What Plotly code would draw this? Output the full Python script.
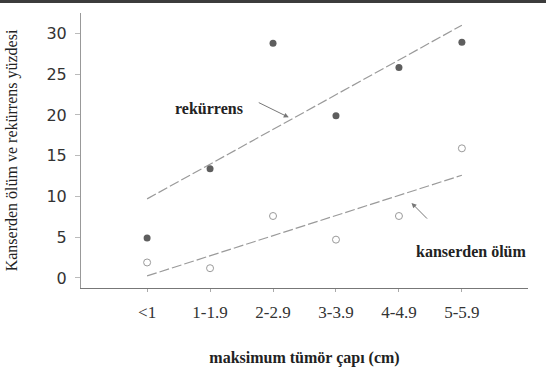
import plotly.graph_objects as go

categories = ["<1", "1-1.9", "2-2.9", "3-3.9", "4-4.9", "5-5.9"]
recurrence = [4.9, 13.4, 28.8, 19.9, 25.8, 28.9]
cancer_death = [1.9, 1.2, 7.6, 4.7, 7.6, 15.9]
# fitted trend lines as drawn in the figure (start at "<1", end at "5-5.9")
recurrence_trend = [9.7, 31.0]
death_trend = [0.25, 12.6]
y_ticks = [0, 5, 10, 15, 20, 25, 30]

xpos = list(range(len(categories)))
trend_x = [xpos[0], xpos[-1]]

W, H = 546, 382
BOTTOM = 94

fig = go.Figure()
fig.add_trace(go.Scatter(x=trend_x, y=recurrence_trend, mode="lines",
                         line=dict(color="#9a9a9a", width=1.2, dash="10px,3px"),
                         hoverinfo="skip", showlegend=False))
fig.add_trace(go.Scatter(x=trend_x, y=death_trend, mode="lines",
                         line=dict(color="#9a9a9a", width=1.2, dash="10px,3px"),
                         hoverinfo="skip", showlegend=False))
fig.add_trace(go.Scatter(x=xpos, y=recurrence, mode="markers",
                         marker=dict(symbol="circle", size=7, color="#5e5e5e"),
                         showlegend=False))
fig.add_trace(go.Scatter(x=xpos, y=cancer_death, mode="markers",
                         marker=dict(symbol="circle-open", size=7, color="#9a9a9a",
                                     line=dict(width=1)),
                         showlegend=False))

serif = "Liberation Serif"

fig.add_annotation(x=0.98, y=20.8, text="<b>rekürrens</b>", showarrow=False,
                   font=dict(family=serif, size=16, color="#222"))
fig.add_annotation(x=2.25, y=19.7, ax=1.75, ay=21.6, axref="x", ayref="y",
                   text="", showarrow=True, arrowhead=2, arrowsize=1,
                   arrowwidth=1, arrowcolor="#777")
fig.add_annotation(x=5.15, y=3.2, text="<b>kanserden ölüm</b>", showarrow=False,
                   font=dict(family=serif, size=16, color="#222"))
fig.add_annotation(x=4.2, y=9.2, ax=4.47, ay=7.1, axref="x", ayref="y",
                   text="", showarrow=True, arrowhead=2, arrowsize=1,
                   arrowwidth=1, arrowcolor="#777")

# dark strip along the top edge of the picture
paper_h = H - BOTTOM
fig.add_shape(type="rect", xref="paper", yref="paper",
              x0=0, x1=1, y0=(paper_h - 3) / paper_h, y1=1,
              fillcolor="#3c3c3c", line=dict(width=0), layer="above")

fig.update_layout(
    width=W, height=H,
    margin=dict(l=0, r=0, t=0, b=BOTTOM, autoexpand=False),
    paper_bgcolor="white", plot_bgcolor="white",
    showlegend=False,
    xaxis=dict(
        domain=[81 / W, 528 / W],
        range=[-1.05, 6.05], tickmode="array", tickvals=xpos, ticktext=categories,
        showgrid=False, zeroline=False, showline=True, linecolor="#777", linewidth=1,
        ticks="outside", ticklen=3, tickcolor="#aaa",
        tickfont=dict(family=serif, size=17, color="#333"),
        ticklabelstandoff=6,
        title=dict(text="<b>maksimum tümör çapı (cm)</b>",
                   font=dict(family=serif, size=16, color="#222"), standoff=30),
    ),
    yaxis=dict(
        domain=[0, (paper_h - 13) / paper_h],
        range=[-1.23, 32.5], tickmode="array", tickvals=y_ticks,
        showgrid=False, zeroline=False, showline=True, linecolor="#999", linewidth=1,
        ticks="outside", ticklen=5, tickcolor="#bbb",
        tickfont=dict(family="DejaVu Sans", size=16, color="#333"),
        ticklabelstandoff=5,
        title=dict(text="Kanserden ölüm ve rekürrens yüzdesi",
                   font=dict(family=serif, size=16, color="#222"), standoff=24),
    ),
)

fig.write_html("out.html", config={"displayModeBar": False},
               post_script="document.body.style.margin='0';")
